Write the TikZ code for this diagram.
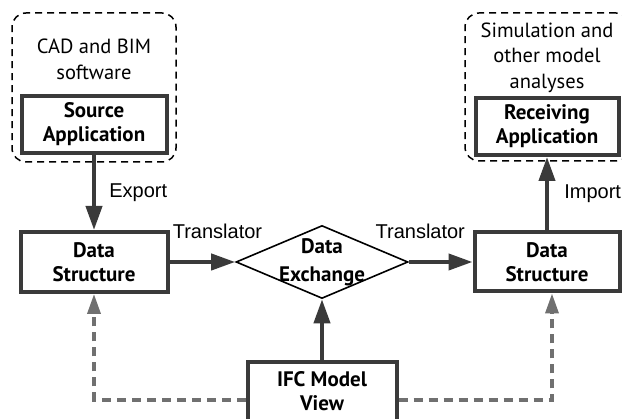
\documentclass[tikz,border=0pt]{standalone}
\usepackage{fontspec}
\setmainfont{PT Sans}
\newfontfamily\labelfont{Liberation Sans}
\usepackage{xcolor}
\usetikzlibrary{shapes.geometric, arrows.meta, positioning}
\definecolor{boxgray}{HTML}{3A3A3A}
\definecolor{linkgray}{HTML}{707070}

\begin{document}
\begin{tikzpicture}[x=1pt, y=1pt,
    block/.style={draw=boxgray, line width=4pt, fill=white, align=center,
        inner sep=0pt, font=\fontsize{21}{24}\selectfont\bfseries},
    group/.style={draw, dash pattern=on 7pt off 5pt, line width=1.5pt,
        rounded corners=14pt},
    grouptext/.style={align=center, font=\fontsize{20.5}{25.5}\selectfont},
    exchange/.style={draw, diamond, line width=1.6pt, inner sep=0pt,
        minimum width=172pt, minimum height=73pt},
    exchtext/.style={align=center, font=\fontsize{21}{28}\selectfont\bfseries},
    flow/.style={draw=boxgray, line width=4pt, -{Triangle[length=24pt,width=16pt]}},
    view/.style={draw=linkgray, line width=3.5pt, dash pattern=on 9pt off 6pt,
        -{Triangle[length=20pt,width=13pt]}},
    lbl/.style={font=\labelfont\fontsize{20}{24}\selectfont}
]
\useasboundingbox (0,0) rectangle (622,419);
\clip (0,0) rectangle (622,419);

% Application groups
\node[group, minimum width=164pt, minimum height=149pt] (cadgroup) at (94,331.5) {};
\node[group, minimum width=165pt, minimum height=148pt] (simgroup) at (547.5,332) {};
\node[grouptext] (cadtext) at (94,359.5) {CAD and BIM\\software};
\node[grouptext] (simtext) at (547,361.5) {Simulation and\\other model\\analyses};

% Applications
\node[block, minimum width=145pt, minimum height=57pt] (srcapp) at (94,294.5) {Source\\Application};
\node[block, minimum width=143pt, minimum height=57pt] (recvapp) at (547,292.5) {Receiving\\Application};

% Data structures and exchange
\node[block, minimum width=147pt, minimum height=60pt] (dsleft) at (94,157) {Data\\Structure};
\node[block, minimum width=145pt, minimum height=59pt] (dsright) at (547,157) {Data\\Structure};
\node[exchange] (exch) at (322,157) {};
\node[exchtext] (exchlabel) at (exch) {Data\\Exchange};

% Model view
\node[block, minimum width=149pt, minimum height=59pt] (ifc) at (322,27.5) {IFC Model\\View};

% Arrows
\draw[flow] (srcapp) -- (dsleft) node[lbl, midway, right=10pt] {Export};
\draw[flow] (dsright) -- (recvapp) node[lbl, midway, right=12pt] {Import};
\draw[flow] (dsleft) -- (exch.west) node[lbl, pos=0.73, above=18pt] {Translator};
\draw[flow] (exch.east) -- (dsright) node[lbl, pos=0.18, above=18pt] {Translator};
\draw[flow] (ifc) -- (exch.south);
\draw[view] ([yshift=-8.5pt]ifc.west) -| (dsleft.south);
\draw[view] ([yshift=-8.5pt]ifc.east) -| ([xshift=5pt]dsright.south);
\end{tikzpicture}
\end{document}
